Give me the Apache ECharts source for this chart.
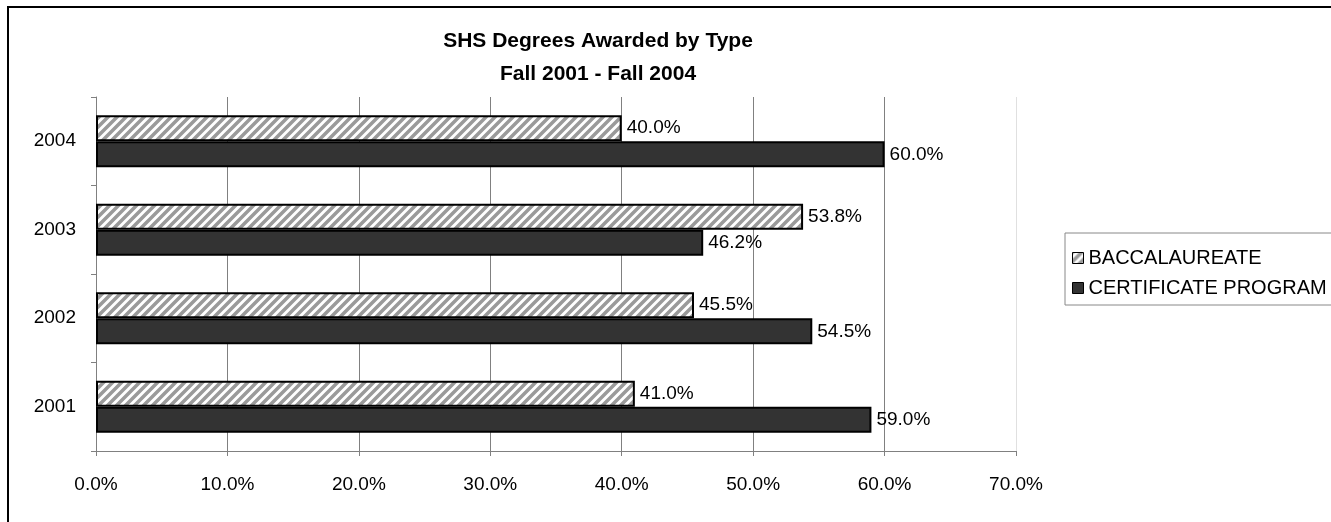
<!DOCTYPE html>
<html>
<head>
<meta charset="utf-8">
<script src="https://cdn.jsdelivr.net/npm/echarts@6/dist/echarts.min.js"></script>
<style>
  html, body { margin: 0; padding: 0; background: #fff; }
  #chart { width: 1331px; height: 522px; }
</style>
</head>
<body>
<div id="chart"></div>
<script>
var years = ['2001', '2002', '2003', '2004'];
var baccalaureate = [41.0, 45.5, 53.8, 40.0];
var certificate = [59.0, 54.5, 46.2, 60.0];
var xTicks = [0, 10, 20, 30, 40, 50, 60, 70];

// diagonal hatch for the baccalaureate bars
var hatch = document.createElement('canvas');
hatch.width = 9;
hatch.height = 9;
var ctx = hatch.getContext('2d');
ctx.fillStyle = '#fff';
ctx.fillRect(0, 0, 9, 9);
ctx.strokeStyle = '#9a9a9a';
ctx.lineWidth = 3.5;
ctx.beginPath();
ctx.moveTo(-2, 11); ctx.lineTo(11, -2);
ctx.moveTo(-2, 2); ctx.lineTo(2, -2);
ctx.moveTo(7, 11); ctx.lineTo(11, 7);
ctx.stroke();

var font = 'Liberation Sans, Arial, sans-serif';
function pct(v) { return Number(v).toFixed(1) + '%'; }

var chart = echarts.init(document.getElementById('chart'));
var option = {
    animation: false,
    backgroundColor: '#fff',
    title: {
        text: 'SHS Degrees Awarded by Type\nFall 2001 - Fall 2004',
        left: 593,
        top: 20,
        textAlign: 'center',
        textStyle: {
            fontFamily: font,
            fontSize: 21,
            fontWeight: 'bold',
            color: '#000',
            lineHeight: 33
        }
    },
    legend: {
        orient: 'vertical',
        left: 1065,
        top: 233,
        padding: [15, 60, 7, 7],
        itemGap: 10,
        itemWidth: 11,
        itemHeight: 11,
        icon: 'rect',
        borderColor: '#888',
        borderWidth: 1,
        textStyle: { fontFamily: font, fontSize: 20, color: '#000' },
        data: [
            { name: 'BACCALAUREATE', itemStyle: { borderColor: '#000', borderWidth: 1 } },
            { name: 'CERTIFICATE PROGRAM', itemStyle: { borderColor: '#000', borderWidth: 1 } }
        ]
    },
    grid: { left: 96, right: 315, top: 97, bottom: 71 },
    xAxis: {
        type: 'value',
        min: xTicks[0],
        max: xTicks[xTicks.length - 1],
        interval: 10,
        axisLine: { show: true, lineStyle: { color: '#808080', width: 1 } },
        axisTick: { show: true, length: 5, lineStyle: { color: '#808080' } },
        axisLabel: { margin: 24, fontFamily: font, fontSize: 19, color: '#000', formatter: pct },
        splitLine: {
            show: true,
            lineStyle: { color: ['#808080', '#808080', '#808080', '#808080', '#808080', '#808080', '#808080', '#e0e0e0'], width: 1 }
        }
    },
    yAxis: {
        type: 'category',
        data: years,
        axisLine: { show: true, lineStyle: { color: '#808080', width: 1 } },
        axisTick: { show: true, length: 5, inside: false, lineStyle: { color: '#808080' } },
        axisLabel: { margin: 20, fontFamily: font, fontSize: 19, color: '#000' },
        splitLine: { show: false }
    },
    series: [
        {
            name: 'BACCALAUREATE',
            type: 'bar',
            data: baccalaureate,
            barGap: 0,
            barCategoryGap: '41%',
            itemStyle: { color: { image: hatch, repeat: 'repeat' }, borderColor: '#000', borderWidth: 2 },
            label: { show: true, position: 'right', distance: 5, fontFamily: font, fontSize: 19, color: '#000', formatter: function (p) { return pct(p.value); } }
        },
        {
            name: 'CERTIFICATE PROGRAM',
            type: 'bar',
            data: certificate,
            barGap: 0,
            barCategoryGap: '41%',
            itemStyle: { color: '#333333', borderColor: '#000', borderWidth: 2 },
            label: { show: true, position: 'right', distance: 5, fontFamily: font, fontSize: 19, color: '#000', formatter: function (p) { return pct(p.value); } }
        }
    ],
    graphic: [
        {
            type: 'rect',
            shape: { x: 8, y: 7, width: 1500, height: 700 },
            style: { fill: null, stroke: '#000', lineWidth: 2 },
            silent: true,
            z: 100
        }
    ]
};
chart.setOption(option);
</script>
</body>
</html>
